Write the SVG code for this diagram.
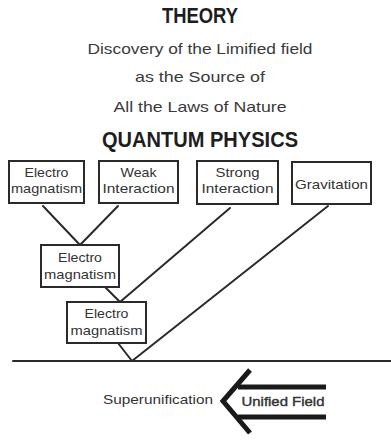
<svg xmlns="http://www.w3.org/2000/svg" width="391" height="440" viewBox="0 0 391 440">
<style>
.t{font-family:"Liberation Sans",Arial,sans-serif;fill:#2a2a2a;text-anchor:middle}
.h{font-weight:bold;font-size:22px;fill:#1e1e1e}
.s{font-size:15px;fill:#3a3a3a}
.b{font-size:13.5px;fill:#333}
.box{fill:#fff;stroke:#2a2a2a;stroke-width:2}
.ln{stroke:#2a2a2a;stroke-width:2;fill:none;stroke-linecap:round}
.ar{stroke:#1a1a1a;stroke-width:5;fill:none;stroke-linecap:butt}
</style>
<rect width="391" height="440" fill="#fff"/>
<g id="titles">
<text class="t h" x="200" y="23" textLength="76" lengthAdjust="spacingAndGlyphs">THEORY</text>
<text class="t s" x="200" y="54" textLength="225" lengthAdjust="spacingAndGlyphs">Discovery of the Limified field</text>
<text class="t s" x="200" y="82" textLength="130" lengthAdjust="spacingAndGlyphs">as the Source of</text>
<text class="t s" x="200" y="112" textLength="173" lengthAdjust="spacingAndGlyphs">All the Laws of Nature</text>
<text class="t h" x="200" y="147" textLength="196" lengthAdjust="spacingAndGlyphs">QUANTUM PHYSICS</text>
</g>
<g id="connectors">
<line class="ln" x1="43" y1="206" x2="80" y2="245"/>
<line class="ln" x1="118" y1="206" x2="80" y2="245"/>
<line class="ln" x1="230" y1="208" x2="120" y2="302"/>
<line class="ln" x1="105" y1="287" x2="120" y2="302"/>
<line class="ln" x1="328" y1="206" x2="132" y2="361"/>
<line class="ln" x1="118" y1="343" x2="132" y2="361"/>
<line class="ln" x1="13" y1="361" x2="391" y2="361"/>
</g>
<g id="n-em1">
<rect class="box" x="9" y="161" width="75" height="42"/>
<text class="t b" x="46.5" y="177" textLength="44" lengthAdjust="spacingAndGlyphs">Electro</text>
<text class="t b" x="46.5" y="193" textLength="71" lengthAdjust="spacingAndGlyphs">magnatism</text>
</g>
<g id="n-weak">
<rect class="box" x="99" y="161" width="79" height="42"/>
<text class="t b" x="138.5" y="177" textLength="36" lengthAdjust="spacingAndGlyphs">Weak</text>
<text class="t b" x="138.5" y="193" textLength="72" lengthAdjust="spacingAndGlyphs">Interaction</text>
</g>
<g id="n-strong">
<rect class="box" x="197" y="161" width="81" height="43"/>
<text class="t b" x="237.5" y="177" textLength="44" lengthAdjust="spacingAndGlyphs">Strong</text>
<text class="t b" x="237.5" y="193" textLength="72" lengthAdjust="spacingAndGlyphs">Interaction</text>
</g>
<g id="n-grav">
<rect class="box" x="292" y="162" width="79" height="42"/>
<text class="t b" x="331.5" y="189" textLength="73" lengthAdjust="spacingAndGlyphs">Gravitation</text>
</g>
<g id="n-em2">
<rect class="box" x="41" y="245" width="78" height="42"/>
<text class="t b" x="80" y="262" textLength="44" lengthAdjust="spacingAndGlyphs">Electro</text>
<text class="t b" x="80" y="279" textLength="72" lengthAdjust="spacingAndGlyphs">magnatism</text>
</g>
<g id="n-em3">
<rect class="box" x="67" y="302" width="79" height="41"/>
<text class="t b" x="106.5" y="318" textLength="44" lengthAdjust="spacingAndGlyphs">Electro</text>
<text class="t b" x="106.5" y="335" textLength="72" lengthAdjust="spacingAndGlyphs">magnatism</text>
</g>
<g id="n-unified">
<polyline class="ar" points="250,370 223,401 250,433"/>
<line class="ar" x1="238" y1="387" x2="326" y2="387"/>
<line class="ar" x1="238" y1="417" x2="326" y2="417"/>
<text class="t b" x="283" y="406" textLength="83" lengthAdjust="spacingAndGlyphs" style="stroke:#333;stroke-width:0.4">Unified Field</text>
</g>
<g id="n-super">
<text class="t b" x="158" y="404" textLength="110" lengthAdjust="spacingAndGlyphs">Superunification</text>
</g>
</svg>
